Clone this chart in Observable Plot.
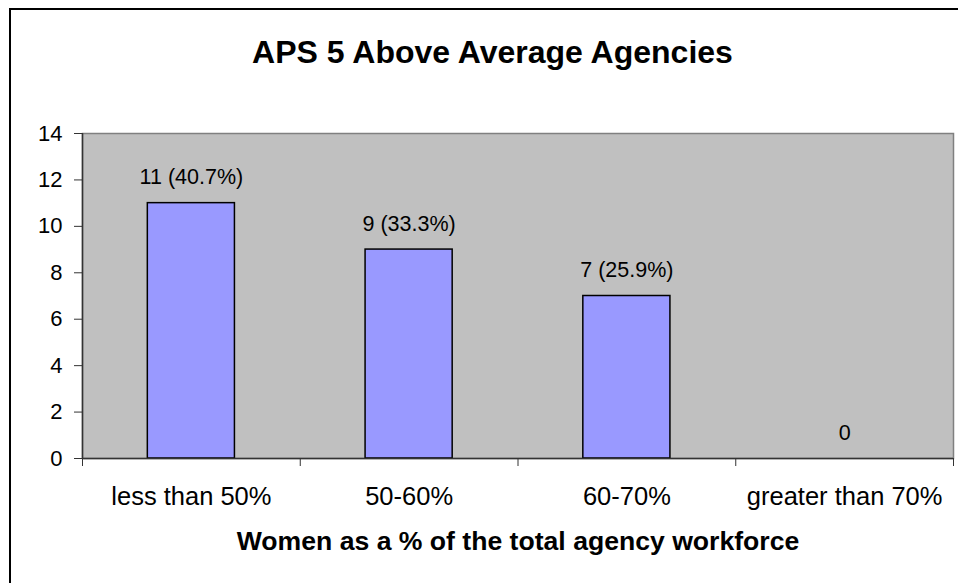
<!DOCTYPE html>
<html>
<head>
<meta charset="utf-8">
<script src="https://cdn.jsdelivr.net/npm/d3@7"></script>
<script src="https://cdn.jsdelivr.net/npm/@observablehq/plot@0.6"></script>
<style>
  html, body { margin: 0; padding: 0; background: #fff; overflow: hidden; }
  #wrap { position: relative; width: 958px; height: 583px; overflow: hidden; }
  #outer { position: absolute; left: 9px; top: 8px; width: 1000px; height: 700px; border: 2px solid #000; box-sizing: border-box; }
  #chart { position: absolute; left: 0; top: 0; }
  #chart svg { background: transparent; }
</style>
</head>
<body>
<div id="wrap"><div id="outer"></div><div id="chart"></div></div>
<script>
const title = "APS 5 Above Average Agencies";
const xTitle = "Women as a % of the total agency workforce";
const categories = ["less than 50%", "50-60%", "60-70%", "greater than 70%"];
const counts = [11, 9, 7, 0];
const percents = ["40.7", "33.3", "25.9", null];
const yTicks = [0, 2, 4, 6, 8, 10, 12, 14];

const data = categories.map((c, i) => ({
  i, category: c, value: counts[i],
  label: percents[i] ? `${counts[i]} (${percents[i]}%)` : `${counts[i]}`
}));
const n = categories.length;

const chart = Plot.plot({
  width: 958,
  height: 583,
  marginLeft: 82,
  marginRight: 5,
  marginTop: 133,
  marginBottom: 125,
  style: { fontFamily: "'Liberation Sans', Arial, Helvetica, sans-serif", color: "#000", background: "transparent" },
  x: { domain: [0, n], axis: null },
  y: { domain: [0, 14], axis: null },
  marks: [
    Plot.frame({ fill: "#c0c0c0", stroke: "#808080", strokeWidth: 1.5 }),
    Plot.rectY(data, {
      x1: d => d.i + 0.3, x2: d => d.i + 0.7, y1: 0, y2: "value",
      fill: "#9999ff", stroke: "#000", strokeWidth: 1.5
    }),
    Plot.axisY({ ticks: yTicks, tickSize: 8, tickFormat: () => "", label: null, stroke: "#333" }),
    Plot.text(yTicks, {
      frameAnchor: "left", y: d => d, text: d => String(d),
      dx: -20, textAnchor: "end", fontSize: 22, fill: "#000"
    }),
    Plot.axisX({ ticks: d3.range(n + 1), tickFormat: () => "", label: null, tickSize: 8, stroke: "#333" }),
    Plot.ruleX([0], { stroke: "#333", strokeWidth: 1.5 }),
    Plot.ruleY([0], { stroke: "#333", strokeWidth: 1.5 }),
    Plot.text(data, {
      x: d => d.i + 0.5, y: "value", text: "label",
      dy: -19, lineAnchor: "bottom", fontSize: 21.5, fill: "#000"
    }),
    Plot.text(data, {
      x: d => d.i + 0.5, y: () => 0, text: "category",
      dy: 46, lineAnchor: "bottom", fontSize: 25.5, fill: "#000"
    }),
    Plot.text([title], {
      frameAnchor: "top", dx: -25.5, dy: -71, lineAnchor: "bottom",
      fontSize: 32, fontWeight: "bold", fill: "#000"
    }),
    Plot.text([xTitle], {
      frameAnchor: "bottom", dy: 91, lineAnchor: "bottom",
      fontSize: 26.6, fontWeight: "bold", fill: "#000"
    })
  ]
});
document.getElementById("chart").appendChild(chart);
</script>
</body>
</html>
